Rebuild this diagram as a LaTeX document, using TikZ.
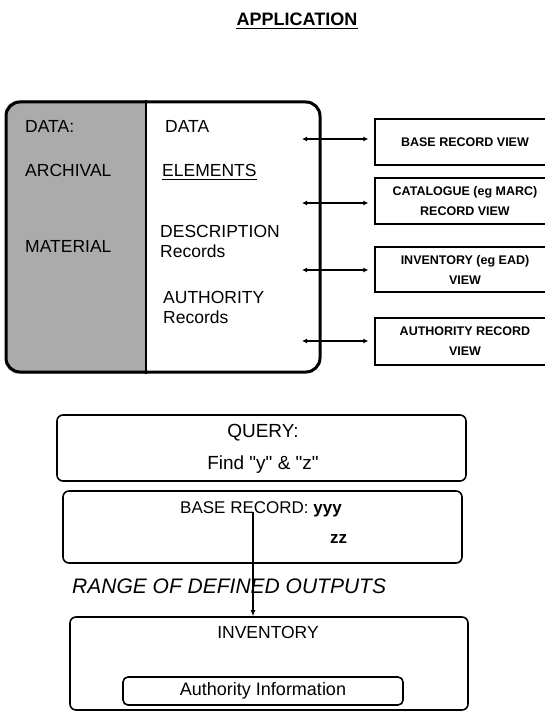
\documentclass[tikz,border=0pt]{standalone}
\usepackage{fontspec}
\setmainfont{Liberation Sans}
\newfontfamily\qfont{Liberation Sans}
\usetikzlibrary{arrows.meta,backgrounds}
\begin{document}
\begin{tikzpicture}[x=1pt,y=-1pt,
  txt/.style={anchor=base west,inner sep=0pt,font=\fontsize{17.5}{20}\selectfont},
  ctxt/.style={anchor=base,inner sep=0pt},
  mainbox/.style={draw,line width=3pt,rounded corners=14pt,inner sep=0pt},
  viewbox/.style={draw,line width=1.3pt,inner sep=0pt,align=center,
    font=\bfseries\fontsize{12.5}{20}\selectfont},
  rbox/.style={draw,line width=1.6pt,rounded corners=6pt,inner sep=0pt},
  dblarrow/.style={{Latex[length=5pt,width=5pt]}-{Latex[length=5pt,width=5pt]},line width=1.3pt},
  downarrow/.style={-{Latex[length=6pt,width=5pt]},line width=1.6pt}]
\clip (0,0) rectangle (545,714);

% title
\node[ctxt,font=\bfseries\fontsize{18}{20}\selectfont] (title) at (297,26) {APPLICATION};
\draw[line width=1.3pt] ([yshift=-2.5pt]title.base west) -- ([yshift=-2.5pt]title.base east);

% main box
\node[mainbox,minimum width=314pt,minimum height=270pt] (main) at (163,237) {};
\coordinate (divx) at (146,0);
\begin{pgfonlayer}{background}
  \begin{scope}
    \clip[rounded corners=14pt] (main.north west) rectangle (main.south east);
    \fill[black!33] (main.north west) rectangle (main.south -| divx);
  \end{scope}
\end{pgfonlayer}
\draw[line width=2pt] (main.north -| divx) -- (main.south -| divx);

\node[txt] (l1) at (25,133) {DATA:};
\node[txt] (l2) at (25,177) {ARCHIVAL};
\node[txt] (l3) at (25,252) {MATERIAL};

\node[txt] (r1) at (165,133) {DATA};
\node[txt] (r2) at (162,177) {ELEMENTS};
\draw[line width=1.2pt] ([yshift=-2.5pt]r2.base west) -- ([yshift=-2.5pt]r2.base east);
\node[txt] (r3) at (160,237) {DESCRIPTION};
\node[txt] (r4) at (160,257) {Records};
\node[txt] (r5) at (163,303) {AUTHORITY};
\node[txt] (r6) at (163,323) {Records};

% view boxes
\node[viewbox,minimum width=180pt,minimum height=46pt] (v1) at (465,142) {BASE RECORD VIEW};
\node[viewbox,minimum width=180pt,minimum height=46pt] (v2) at (465,201) {CATALOGUE (eg MARC)\\RECORD VIEW};
\node[viewbox,minimum width=180pt,minimum height=45pt] (v3) at (465,269.5) {INVENTORY (eg EAD)\\VIEW};
\node[viewbox,minimum width=180pt,minimum height=47pt] (v4) at (465,341.5) {AUTHORITY RECORD\\VIEW};

\coordinate (a1) at (302,139);
\coordinate (a2) at (302,203);
\coordinate (a3) at (302,270);
\coordinate (a4) at (302,341);
\draw[dblarrow,shorten >=6pt] (a1) -- (a1 -| v1.west);
\draw[dblarrow,shorten >=6pt] (a2) -- (a2 -| v2.west);
\draw[dblarrow,shorten >=6pt] (a3) -- (a3 -| v3.west);
\draw[dblarrow,shorten >=6pt] (a4) -- (a4 -| v4.west);

% query
\node[rbox,minimum width=409pt,minimum height=66pt] (query) at (261.5,448) {};
\node[ctxt,font=\fontsize{19}{22}\selectfont] (q1) at (263,437) {QUERY:};
\node[ctxt,font=\qfont\fontsize{19}{22}\selectfont] (q2) at (263,469) {Find "y" \& "z"};

% base record
\node[rbox,minimum width=399pt,minimum height=72pt] (base) at (262.5,527) {};
\node[anchor=base west,inner sep=0pt,font=\fontsize{17}{20}\selectfont] (b1) at (180,513) {BASE RECORD: \textbf{yyy}};
\node[anchor=base west,inner sep=0pt,font=\bfseries\fontsize{17}{20}\selectfont] (b2) at (330,543) {zz};

% range
\node[anchor=base west,inner sep=0pt,font=\itshape\fontsize{21}{24}\selectfont] (range) at (72,593) {RANGE OF DEFINED OUTPUTS};

% inventory
\node[rbox,minimum width=398pt,minimum height=93pt] (inv) at (269,663.5) {};
\node[ctxt,font=\fontsize{17.5}{20}\selectfont] (invt) at (268,638) {INVENTORY};
\node[rbox,rounded corners=5pt,minimum width=280pt,minimum height=28pt,font=\fontsize{18}{20}\selectfont] (auth) at (263,691) {Authority Information};

\coordinate (vs) at (253,512);
\draw[downarrow] (vs) -- (vs |- inv.north);
\end{tikzpicture}
\end{document}
